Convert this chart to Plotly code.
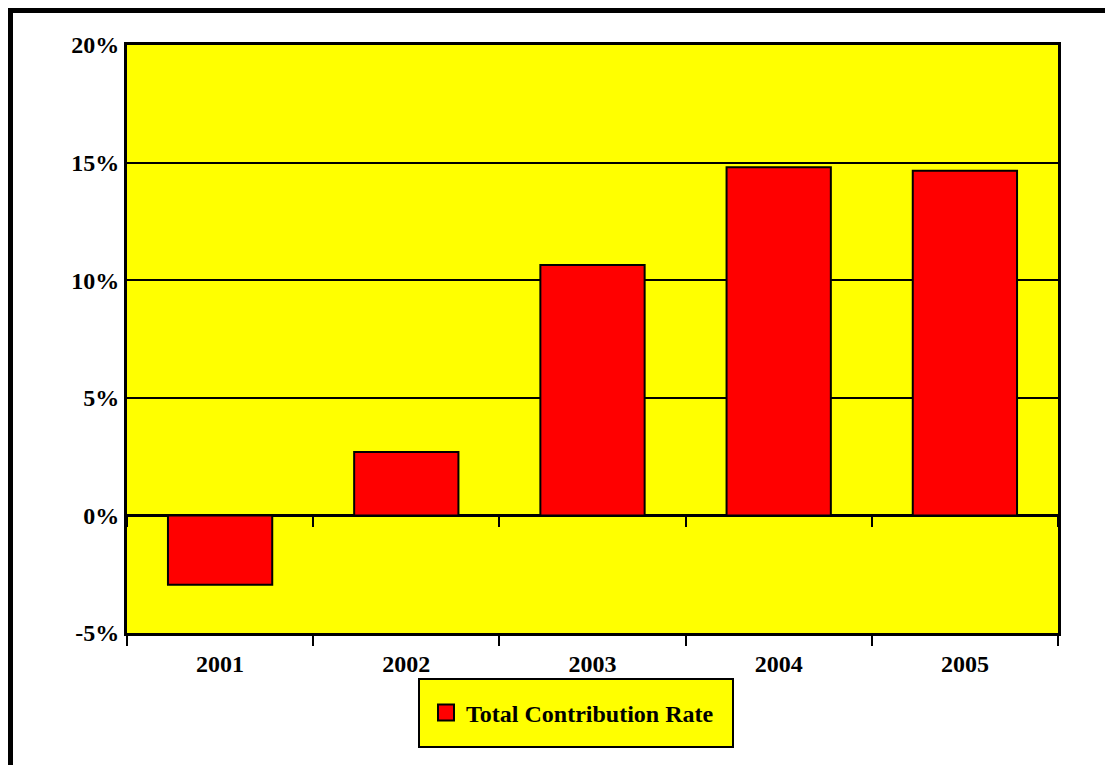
import plotly.graph_objects as go

years = ["2001", "2002", "2003", "2004", "2005"]
rates = [-2.95, 2.7, 10.65, 14.8, 14.65]
y_ticks = [-5, 0, 5, 10, 15, 20]
y_labels = ["-5%", "0%", "5%", "10%", "15%", "20%"]
series_name = "Total Contribution Rate"

OFF = 8  # page body margin
W, H = 1113 - OFF, 765 - OFF
L, R, T, B = 127, 1058, 45, 633  # reference screen coords of plot area
pw, ph = R - L, B - T

def px(x):
    return (x - L) / pw

def py(y):
    return (B - y) / ph

bold = dict(family="Liberation Serif", size=24, color="black", weight="bold")

fig = go.Figure()
fig.add_trace(go.Bar(
    x=years, y=rates, name=series_name, showlegend=False,
    marker=dict(color="#FF0000", line=dict(color="black", width=2)),
))
fig.add_trace(go.Scatter(
    x=years, y=rates, mode="none", xaxis="x2", yaxis="y",
    showlegend=False, hoverinfo="skip",
))
fig.add_trace(go.Scatter(
    x=[None], y=[None], mode="markers", name=series_name,
    marker=dict(symbol="square", size=16, color="#FF0000", line=dict(color="black", width=2)),
))

fig.update_layout(
    width=W, height=H,
    margin=dict(l=L - OFF, r=W - (R - OFF), t=T - OFF, b=H - (B - OFF)),
    paper_bgcolor="white",
    plot_bgcolor="#FFFF00",
    bargap=0.44,
    font=bold,
    showlegend=True,
    legend=dict(
        orientation="h", x=px(426), xanchor="left", y=py(713), yanchor="middle",
        bgcolor="rgba(0,0,0,0)", borderwidth=0,
        font=bold, itemwidth=30,
    ),
    xaxis=dict(
        type="category", categoryorder="array", categoryarray=years,
        range=[-0.5, 4.5],
        showline=True, linecolor="black", linewidth=3, mirror=True,
        ticks="outside", tickson="boundaries", ticklen=10, tickwidth=2, tickcolor="black",
        showgrid=False, ticklabelstandoff=7,
        tickfont=bold,
    ),
    xaxis2=dict(
        type="category", categoryorder="array", categoryarray=years,
        overlaying="x", matches="x", anchor="free", position=py(516), side="bottom",
        showline=False, showgrid=False, showticklabels=False,
        ticks="outside", tickson="boundaries", ticklen=10, tickwidth=2, tickcolor="black",
        range=[-0.5, 4.5],
    ),
    yaxis=dict(
        range=[-5, 20], tickvals=y_ticks, ticktext=y_labels,
        showline=True, linecolor="black", linewidth=3, mirror=True,
        showgrid=True, gridcolor="black", gridwidth=2,
        zeroline=True, zerolinecolor="black", zerolinewidth=3,
        ticks="", ticklabelstandoff=0,
        tickfont=bold,
    ),
    shapes=[
        dict(type="rect", xref="paper", yref="paper",
             x0=px(10), x1=px(1140), y0=py(800), y1=py(10),
             line=dict(color="black", width=6), fillcolor="rgba(0,0,0,0)", layer="below"),
        dict(type="rect", xref="paper", yref="paper",
             x0=px(419), x1=px(733), y0=py(747), y1=py(679),
             line=dict(color="black", width=2), fillcolor="#FFFF00", layer="below"),
    ],
)

fig.write_html("out.html")
